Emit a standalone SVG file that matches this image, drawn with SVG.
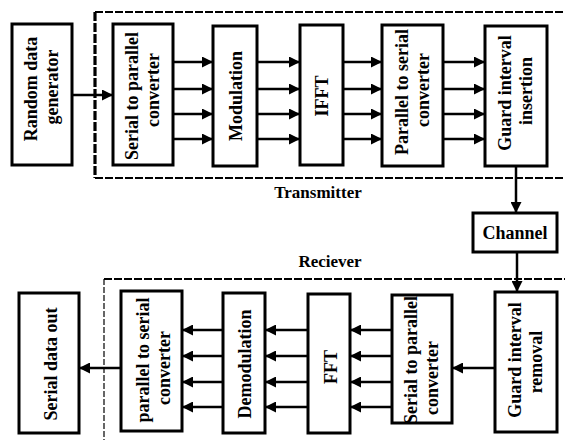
<svg xmlns="http://www.w3.org/2000/svg" width="565" height="440" viewBox="0 0 565 440">
<style>
.box{fill:#fff;stroke:#000;stroke-width:3}
text.t{font-family:'Liberation Serif',serif !important;font-weight:bold;font-size:18px;text-anchor:middle;fill:#000}
text.lbl{font-family:'Liberation Serif',serif !important;font-weight:bold;font-size:17px;text-anchor:middle;fill:#000}
.c{stroke:#000;stroke-width:2.5;fill:none;marker-end:url(#ah)}
.dash{stroke:#000;stroke-width:2.2;fill:none;stroke-dasharray:8 2}
</style>
<defs>
<marker id="ah" markerUnits="userSpaceOnUse" markerWidth="11" markerHeight="11" refX="10" refY="5" orient="auto" viewBox="0 0 10 10">
<path d="M0,0 L10,5 L0,10 z" fill="#000"/>
</marker>
</defs>
<rect width="565" height="440" fill="#fff"/>
<g id="frames">
<path class="dash" d="M95,12 H565 M95,178 H565"/>
<path d="M95,12 V178" stroke="#000" stroke-width="3.2" stroke-dasharray="9 2" fill="none"/>
<path class="dash" d="M104,279 H565"/>
<path d="M104,279 V440" stroke="#000" stroke-width="1.2" stroke-dasharray="6 2" fill="none"/>
<text class="lbl" font-family="Liberation Serif" x="318" y="198">Transmitter</text>
<text class="lbl" font-family="Liberation Serif" x="330" y="267">Reciever</text>
</g>

<g id="connectors">
<line class="c" x1="72" y1="95" x2="113" y2="95"/>
<path class="c" d="M173,62 H213"/><path class="c" d="M173,89 H213"/><path class="c" d="M173,114 H213"/><path class="c" d="M173,139 H213"/>
<path class="c" d="M257,62 H300"/><path class="c" d="M257,89 H300"/><path class="c" d="M257,114 H300"/><path class="c" d="M257,139 H300"/>
<path class="c" d="M343,62 H382"/><path class="c" d="M343,89 H382"/><path class="c" d="M343,114 H382"/><path class="c" d="M343,139 H382"/>
<path class="c" d="M443,62 H485"/><path class="c" d="M443,89 H485"/><path class="c" d="M443,114 H485"/><path class="c" d="M443,139 H485"/>
<path class="c" d="M516,166 V213"/>
<path class="c" d="M517,252 V292"/>
<path class="c" d="M495,368 H452"/>
<path class="c" d="M392,330 H350"/><path class="c" d="M392,356 H350"/><path class="c" d="M392,382 H350"/><path class="c" d="M392,407 H350"/>
<path class="c" d="M308,330 H265"/><path class="c" d="M308,356 H265"/><path class="c" d="M308,382 H265"/><path class="c" d="M308,407 H265"/>
<path class="c" d="M223,330 H182"/><path class="c" d="M223,356 H182"/><path class="c" d="M223,382 H182"/><path class="c" d="M223,407 H182"/>
<path class="c" d="M121,368 H79"/>
</g>

<g id="random-data-generator">
<rect class="box" x="12" y="24" width="60" height="141"/>
<text class="t" font-family="Liberation Serif" transform="translate(42,89) rotate(-90)" x="0" y="-5.5">Random data</text>
<text class="t" font-family="Liberation Serif" transform="translate(42,87) rotate(-90)" x="0" y="15.5">generator</text>
</g>

<g id="tx-serial-to-parallel">
<rect class="box" x="113" y="24" width="60" height="141"/>
<text class="t" font-family="Liberation Serif" transform="translate(143,96) rotate(-90)" x="0" y="-5.5">Serial to parallel</text>
<text class="t" font-family="Liberation Serif" transform="translate(143,90) rotate(-90)" x="0" y="15.5">converter</text>
</g>

<g id="modulation">
<rect class="box" x="213" y="26" width="44" height="140"/>
<text class="t" font-family="Liberation Serif" transform="translate(235,96) rotate(-90)" y="6.5">Modulation</text>
</g>

<g id="ifft">
<rect class="box" x="300" y="25" width="43" height="140"/>
<text class="t" font-family="Liberation Serif" transform="translate(321.5,96) rotate(-90)" y="6.5">IFFT</text>
</g>

<g id="tx-parallel-to-serial">
<rect class="box" x="382" y="25" width="61" height="141"/>
<text class="t" font-family="Liberation Serif" transform="translate(412.5,92) rotate(-90)" x="0" y="-5">Parallel to serial</text>
<text class="t" font-family="Liberation Serif" transform="translate(412.5,90) rotate(-90)" x="0" y="16">converter</text>
</g>

<g id="guard-interval-insertion">
<rect class="box" x="485" y="26" width="62" height="140"/>
<text class="t" font-family="Liberation Serif" transform="translate(516,93) rotate(-90)" x="0" y="-5">Guard interval</text>
<text class="t" font-family="Liberation Serif" transform="translate(516,91) rotate(-90)" x="0" y="16">insertion</text>
</g>

<g id="channel">
<rect class="box" x="473" y="213" width="84" height="39"/>
<text class="t" font-family="Liberation Serif" x="515" y="239">Channel</text>
</g>

<g id="guard-interval-removal">
<rect class="box" x="495" y="292" width="62" height="140"/>
<text class="t" font-family="Liberation Serif" transform="translate(526,360) rotate(-90)" x="0" y="-5">Guard interval</text>
<text class="t" font-family="Liberation Serif" transform="translate(526,362) rotate(-90)" x="0" y="16">removal</text>
</g>

<g id="rx-serial-to-parallel">
<rect class="box" x="392" y="295" width="60" height="128"/>
<text class="t" font-family="Liberation Serif" transform="translate(422,360) rotate(-90)" x="0" y="-5">Serial to parallel</text>
<text class="t" font-family="Liberation Serif" transform="translate(422,378) rotate(-90)" x="0" y="16">converter</text>
</g>

<g id="fft">
<rect class="box" x="308" y="294" width="42" height="139"/>
<text class="t" font-family="Liberation Serif" transform="translate(329,367) rotate(-90)" y="8">FFT</text>
</g>

<g id="demodulation">
<rect class="box" x="223" y="293" width="42" height="140"/>
<text class="t" font-family="Liberation Serif" transform="translate(244,364) rotate(-90)" y="6.5">Demodulation</text>
</g>

<g id="rx-parallel-to-serial">
<rect class="box" x="121" y="291" width="61" height="140"/>
<text class="t" font-family="Liberation Serif" transform="translate(153,360) rotate(-90)" x="0" y="-4">parallel to serial</text>
<text class="t" font-family="Liberation Serif" transform="translate(153,368) rotate(-90)" x="0" y="17">converter</text>
</g>

<g id="serial-data-out">
<rect class="box" x="19" y="293" width="60" height="140"/>
<text class="t" font-family="Liberation Serif" transform="translate(49,364) rotate(-90)" y="7.5">Serial data out</text>
</g>
</svg>
